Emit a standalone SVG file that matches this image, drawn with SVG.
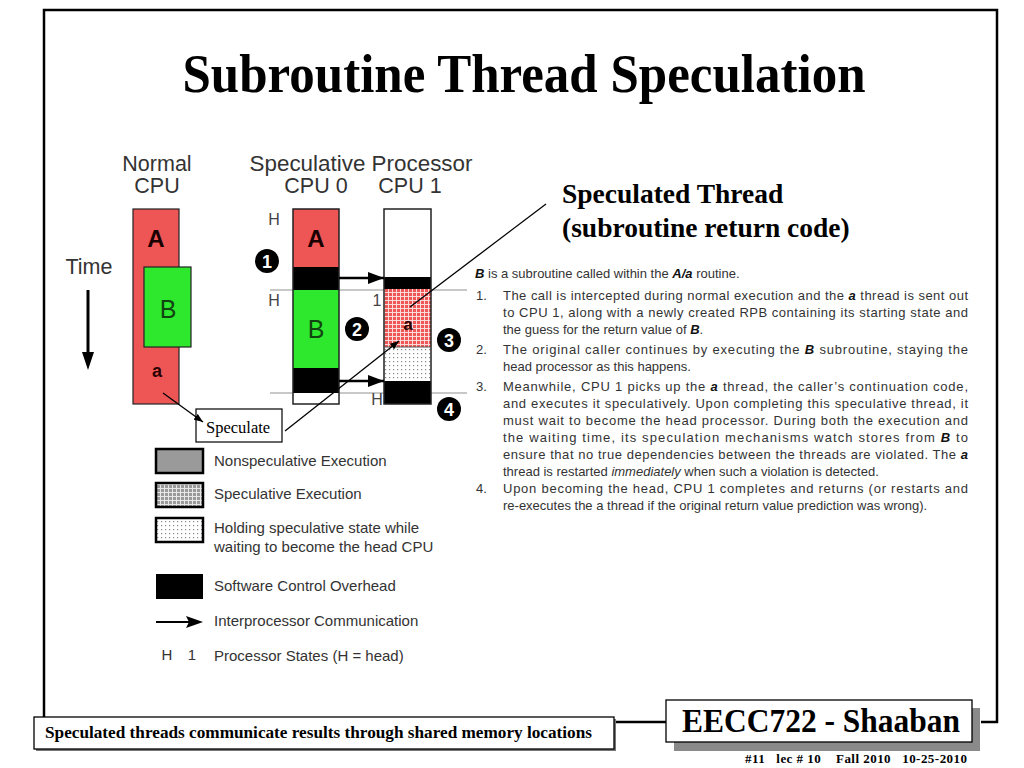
<svg xmlns="http://www.w3.org/2000/svg" width="1024" height="768" viewBox="0 0 1024 768">
<defs>
<style>
.ttl{font-family:"Liberation Serif","Times New Roman",serif;font-weight:bold;fill:#000}
.ser{font-family:"Liberation Serif","Times New Roman",serif;fill:#000}
.sans{font-family:"Liberation Sans",Arial,sans-serif;fill:#333}
.hdr{font-family:"Liberation Sans",Arial,sans-serif;font-size:21.5px;fill:#333}
.lab{font-family:"Liberation Sans",Arial,sans-serif;font-size:16px;fill:#444}
.leg{font-family:"Liberation Sans",Arial,sans-serif;font-size:15px;fill:#333}
.body{font-family:"Liberation Sans",Arial,sans-serif;font-size:13px;fill:#333}
.bi{font-weight:bold;font-style:italic;fill:#111}
.num{font-family:"Liberation Sans",Arial,sans-serif;font-size:18px;font-weight:bold;fill:#fff;text-anchor:middle}
.frame{fill:none;stroke:#000;stroke-width:2.5}
.bar{stroke:#222;stroke-width:1.2}
.out{fill:none;stroke:#222;stroke-width:1.5}
.glide{stroke:#c8c8c8;stroke-width:2}
.conn{stroke:#000;stroke-width:1.3;fill:none}
.big{stroke:#000;stroke-width:2.5;fill:none}
.legbox{stroke:#000;stroke-width:2.5}
</style>
<pattern id="specRed" width="4" height="4" patternUnits="userSpaceOnUse">
<rect width="4" height="4" fill="#EE5555"/>
<path d="M0 0.5H4M0.5 0V4" stroke="#fbdada" stroke-width="1"/>
</pattern>
<pattern id="specGray" width="4" height="4" patternUnits="userSpaceOnUse">
<rect width="4" height="4" fill="#9a9a9a"/>
<path d="M0 0.5H4M0.5 0V4" stroke="#e8e8e8" stroke-width="1"/>
</pattern>
<pattern id="hold" width="4" height="4" patternUnits="userSpaceOnUse">
<rect width="4" height="4" fill="#fff"/>
<rect x="1" y="1" width="1.2" height="1.2" fill="#888"/>
</pattern>
<marker id="bigArrow" markerWidth="16" markerHeight="12" refX="16" refY="6" orient="auto" markerUnits="userSpaceOnUse">
<path d="M0,0 L16,6 L0,12 z" fill="#000"/>
</marker>
<marker id="smallArrow" markerWidth="9" markerHeight="7" refX="9" refY="3.5" orient="auto" markerUnits="userSpaceOnUse">
<path d="M0,0 L9,3.5 L0,7 z" fill="#000"/>
</marker>
</defs>
<rect width="1024" height="768" fill="#fff"/>

<g id="frame">
<path class="frame" d="M44,717 V10 H997 V722 H981"/>
<path class="frame" d="M614,722 H666"/>
</g>

<g id="title">
<text class="ttl" x="524" y="92" font-size="55" text-anchor="middle" textLength="683" lengthAdjust="spacingAndGlyphs">Subroutine Thread Speculation</text>
</g>

<g id="headers">
<text class="hdr" x="157" y="171" text-anchor="middle">Normal</text>
<text class="hdr" x="157" y="193" text-anchor="middle">CPU</text>
<text class="hdr" x="361" y="171" text-anchor="middle" textLength="223" lengthAdjust="spacingAndGlyphs">Speculative Processor</text>
<text class="hdr" x="316" y="193" text-anchor="middle">CPU 0</text>
<text class="hdr" x="410" y="193" text-anchor="middle">CPU 1</text>
<text class="sans" x="89" y="274" font-size="21.5" text-anchor="middle">Time</text>
</g>

<g id="gray-lines">
<line class="glide" x1="270" y1="290" x2="467" y2="290"/>
<line class="glide" x1="270" y1="393" x2="467" y2="393"/>
</g>

<g id="normal-cpu">
<rect class="bar" x="133" y="209" width="46" height="195" fill="#EE5555"/>
<rect class="bar" x="144" y="267" width="47" height="80" fill="#2DE82D"/>
<text class="sans" x="156" y="247" font-size="24" font-weight="bold" text-anchor="middle" style="fill:#1a0000">A</text>
<text class="sans" x="168" y="318" font-size="25" text-anchor="middle" style="fill:#114411">B</text>
<text class="sans" x="157" y="377" font-size="18" font-weight="bold" text-anchor="middle" style="fill:#2a0000">a</text>
</g>

<g id="cpu0">
<rect x="293" y="209" width="46" height="58" fill="#EE5555"/>
<rect x="293" y="267" width="46" height="23" fill="#000"/>
<rect x="293" y="290" width="46" height="78" fill="#2DE82D"/>
<rect x="293" y="368" width="46" height="25" fill="#000"/>
<rect x="293" y="393" width="46" height="11" fill="#fff"/>
<rect class="out" x="293" y="209" width="46" height="195"/>
<text class="sans" x="316" y="247" font-size="24" font-weight="bold" text-anchor="middle" style="fill:#1a0000">A</text>
<text class="sans" x="316" y="338" font-size="25" text-anchor="middle" style="fill:#114411">B</text>
<text class="lab" x="274" y="225" text-anchor="middle">H</text>
<text class="lab" x="274" y="306" text-anchor="middle">H</text>
</g>

<g id="cpu1">
<rect x="384" y="209" width="47" height="68" fill="#fff"/>
<rect x="384" y="277" width="47" height="12" fill="#000"/>
<rect x="384" y="289" width="47" height="58" fill="url(#specRed)"/>
<rect x="384" y="347" width="47" height="34" fill="url(#hold)"/>
<rect x="384" y="381" width="47" height="23" fill="#000"/>
<rect class="out" x="384" y="209" width="47" height="195"/>
<line x1="384" y1="347" x2="431" y2="347" stroke="#555" stroke-width="1"/>
<text class="sans" x="408" y="330" font-size="17" font-weight="bold" text-anchor="middle" style="fill:#2a0000">a</text>
<text class="lab" x="377" y="306" text-anchor="middle">1</text>
<text class="lab" x="377" y="405" text-anchor="middle">H</text>
</g>

<g id="steps">
<circle cx="267" cy="261" r="12" fill="#000"/><text class="num" x="267" y="267.5">1</text>
<circle cx="357" cy="329" r="12" fill="#000"/><text class="num" x="357" y="335.5">2</text>
<circle cx="449" cy="340" r="12" fill="#000"/><text class="num" x="449" y="346.5">3</text>
<circle cx="449" cy="409" r="12" fill="#000"/><text class="num" x="449" y="415.5">4</text>
</g>

<g id="speculate">
<rect x="196" y="409" width="86" height="33" fill="#fff" stroke="#000" stroke-width="1.2"/>
<text class="ser" x="206" y="433" font-size="16.5">Speculate</text>
</g>

<g id="thread-label">
<text class="ttl" x="562" y="203" font-size="27.5">Speculated Thread</text>
<text class="ttl" x="562" y="237" font-size="27.5">(subroutine return code)</text>
</g>

<g id="connectors">
<line class="big" x1="339" y1="278" x2="384" y2="278" marker-end="url(#bigArrow)"/>
<line class="big" x1="339" y1="381" x2="384" y2="381" marker-end="url(#bigArrow)"/>
<line class="conn" x1="163" y1="393" x2="203" y2="422" marker-end="url(#smallArrow)"/>
<line class="conn" x1="285" y1="431" x2="399" y2="341" marker-end="url(#smallArrow)"/>
<line class="conn" x1="546" y1="204" x2="410" y2="307"/>
<line x1="88" y1="290" x2="88" y2="355" stroke="#000" stroke-width="3"/>
<path d="M82,352 L94,352 L88,370 z" fill="#000"/>
</g>

<g id="description">
<text class="body" x="475" y="278"><tspan class="bi">B</tspan> is a subroutine called within the <tspan class="bi">A/a</tspan> routine.</text>
<text class="body" x="476" y="300">1.</text>
<text class="body" x="503" y="300" textLength="465" lengthAdjust="spacing">The call is intercepted during normal execution and the <tspan class="bi">a</tspan> thread is sent out</text>
<text class="body" x="503" y="317" textLength="465" lengthAdjust="spacing">to CPU 1, along with a newly created RPB containing its starting state and</text>
<text class="body" x="503" y="334">the guess for the return value of <tspan class="bi">B</tspan>.</text>
<text class="body" x="476" y="354">2.</text>
<text class="body" x="503" y="354" textLength="465" lengthAdjust="spacing">The original caller continues by executing the <tspan class="bi">B</tspan> subroutine, staying the</text>
<text class="body" x="503" y="371">head processor as this happens.</text>
<text class="body" x="476" y="391">3.</text>
<text class="body" x="503" y="391" textLength="465" lengthAdjust="spacing">Meanwhile, CPU 1 picks up the <tspan class="bi">a</tspan> thread, the caller’s continuation code,</text>
<text class="body" x="503" y="408" textLength="465" lengthAdjust="spacing">and executes it speculatively. Upon completing this speculative thread, it</text>
<text class="body" x="503" y="425" textLength="465" lengthAdjust="spacing">must wait to become the head processor. During both the execution and</text>
<text class="body" x="503" y="442" textLength="465" lengthAdjust="spacing">the waiting time, its speculation mechanisms watch stores from <tspan class="bi">B</tspan> to</text>
<text class="body" x="503" y="459" textLength="465" lengthAdjust="spacing">ensure that no true dependencies between the threads are violated. The <tspan class="bi">a</tspan></text>
<text class="body" x="503" y="476">thread is restarted <tspan font-style="italic">immediately</tspan> when such a violation is detected.</text>
<text class="body" x="476" y="493">4.</text>
<text class="body" x="503" y="493" textLength="465" lengthAdjust="spacing">Upon becoming the head, CPU 1 completes and returns (or restarts and</text>
<text class="body" x="503" y="510">re-executes the a thread if the original return value prediction was wrong).</text>
</g>

<g id="legend">
<rect class="legbox" x="156" y="449" width="47" height="24" fill="#9a9a9a"/>
<text class="leg" x="214" y="466">Nonspeculative Execution</text>
<rect class="legbox" x="156" y="483" width="47" height="24" fill="url(#specGray)"/>
<text class="leg" x="214" y="499">Speculative Execution</text>
<rect class="legbox" x="156" y="518" width="47" height="24" fill="url(#hold)"/>
<text class="leg" x="214" y="533">Holding speculative state while</text>
<text class="leg" x="214" y="552">waiting to become the head CPU</text>
<rect x="156" y="574" width="47" height="25" fill="#000"/>
<text class="leg" x="214" y="591">Software Control Overhead</text>
<line x1="156" y1="622" x2="190" y2="622" stroke="#000" stroke-width="2"/>
<path d="M186,616 L203,622 L186,628 L189,622 z" fill="#000"/>
<text class="leg" x="214" y="626">Interprocessor Communication</text>
<text class="leg" x="167" y="660" text-anchor="middle">H</text>
<text class="leg" x="192" y="660" text-anchor="middle">1</text>
<text class="leg" x="214" y="661">Processor States (H = head)</text>
</g>

<g id="footer-note">
<rect x="36" y="719" width="580" height="32" fill="#777"/>
<rect x="34" y="717" width="580" height="32" fill="#fff" stroke="#000" stroke-width="1.3"/>
<text class="ttl" x="45" y="738" font-size="17.5" textLength="547" lengthAdjust="spacingAndGlyphs">Speculated threads communicate results through shared memory locations</text>
</g>

<g id="footer-badge">
<rect x="674" y="708" width="306" height="43" fill="#8a8a8a"/>
<rect x="666" y="700" width="306" height="42" fill="#fff" stroke="#000" stroke-width="1.3"/>
<text class="ttl" x="682" y="732" font-size="34" textLength="278" lengthAdjust="spacingAndGlyphs">EECC722 - Shaaban</text>
<text class="ttl" x="745" y="763" font-size="13" textLength="222" lengthAdjust="spacing" xml:space="preserve">#11   lec # 10    Fall 2010   10-25-2010</text>
</g>
</svg>
